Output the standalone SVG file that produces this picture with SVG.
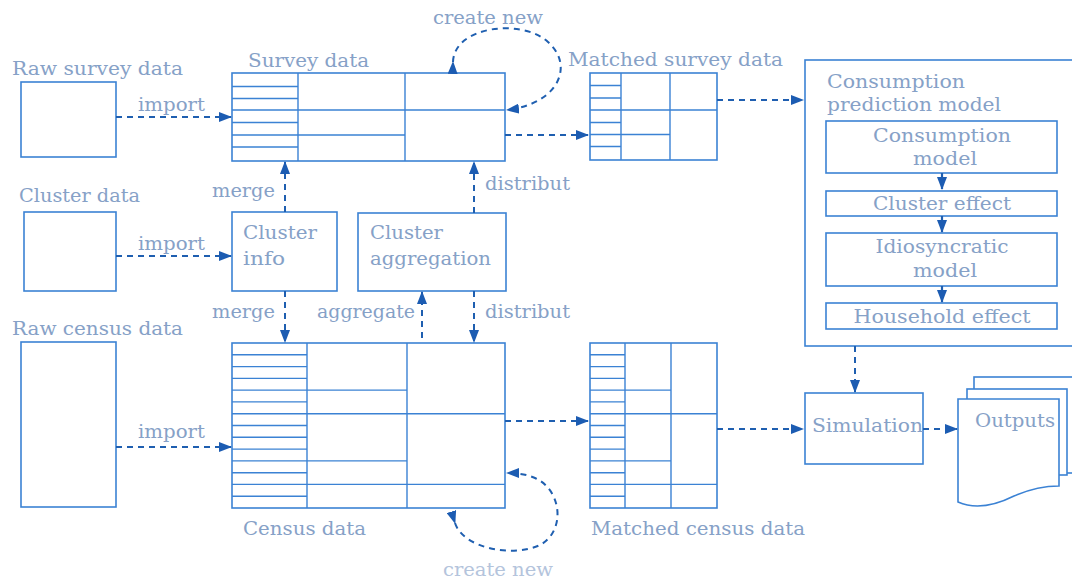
<svg xmlns="http://www.w3.org/2000/svg" width="1072" height="578" viewBox="0 0 1072 578">
  <defs>
    <marker id="ah" viewBox="0 0 13 10" refX="12" refY="5" markerWidth="13" markerHeight="10" markerUnits="userSpaceOnUse" orient="auto">
      <path d="M0,0 L13,5 L0,10 z" fill="#1c5cb2"/>
    </marker>
  </defs>
  <style>
    .box{fill:#fff;stroke:#3b82d4;stroke-width:1.6}
    .grid{fill:none;stroke:#3b82d4;stroke-width:1.4}
    .lbl{font-family:"DejaVu Serif","Liberation Serif",serif;font-size:19px;fill:#86a1c7}
    .faint{fill:#b4c4dc}
    .dash{fill:none;stroke:#1f5fb0;stroke-width:2;stroke-dasharray:6 5;marker-end:url(#ah)}
    .loop{fill:none;stroke:#1f5fb0;stroke-width:2;stroke-dasharray:6 5;marker-start:url(#ah);marker-end:url(#ah)}
    .solid{fill:none;stroke:#1f5fb0;stroke-width:2.2;marker-end:url(#ah)}
  </style>
  <rect width="1072" height="578" fill="#fff"/>

  <!-- raw survey data -->
  <g id="raw-survey">
    <rect class="box" x="21" y="82" width="95" height="75"/>
    <text class="lbl" x="12" y="75" textLength="171" lengthAdjust="spacingAndGlyphs">Raw survey data</text>
  </g>

  <!-- survey data table -->
  <g id="survey-data">
    <rect class="box" x="232" y="73" width="273" height="88"/>
    <path class="grid" d="M298,73V161M405,73V161M232,86.5H298M232,98.5H298M232,110H505M232,122.5H298M232,135H405M232,147H298"/>
    <text class="lbl" x="248" y="67" textLength="121" lengthAdjust="spacingAndGlyphs">Survey data</text>
  </g>

  <!-- matched survey data table -->
  <g id="matched-survey">
    <rect class="box" x="590" y="73" width="127" height="87"/>
    <path class="grid" d="M621,73V160M670,73V160M590,85.5H621M590,98H621M590,110H717M590,122.5H621M590,134.5H670M590,146.5H621"/>
    <text class="lbl" x="568" y="66" textLength="215" lengthAdjust="spacingAndGlyphs">Matched survey data</text>
  </g>

  <!-- cluster data -->
  <g id="cluster-data">
    <rect class="box" x="24" y="212" width="92" height="79"/>
    <text class="lbl" x="19" y="202" textLength="121" lengthAdjust="spacingAndGlyphs">Cluster data</text>
  </g>

  <g id="cluster-info">
    <rect class="box" x="232" y="212" width="105" height="79"/>
    <text class="lbl" x="243" y="239" textLength="74" lengthAdjust="spacingAndGlyphs">Cluster</text>
    <text class="lbl" x="243" y="265" textLength="42" lengthAdjust="spacingAndGlyphs">info</text>
  </g>

  <g id="cluster-aggregation">
    <rect class="box" x="358" y="213" width="148" height="78"/>
    <text class="lbl" x="370" y="239" textLength="73" lengthAdjust="spacingAndGlyphs">Cluster</text>
    <text class="lbl" x="370" y="265" textLength="121" lengthAdjust="spacingAndGlyphs">aggregation</text>
  </g>

  <!-- raw census data -->
  <g id="raw-census">
    <rect class="box" x="21" y="342" width="95" height="165"/>
    <text class="lbl" x="12" y="335" textLength="171" lengthAdjust="spacingAndGlyphs">Raw census data</text>
  </g>

  <!-- census data table -->
  <g id="census-data">
    <rect class="box" x="232" y="343" width="273" height="165"/>
    <path class="grid" d="M307,343V508M407,343V508
      M232,354.8H307M232,366.6H307M232,378.4H307M232,390.1H407M232,401.9H307M232,413.7H505M232,425.5H307
      M232,437.3H307M232,449.1H307M232,460.9H407M232,472.7H307M232,484.4H505M232,496.2H307"/>
    <text class="lbl" x="243" y="535" textLength="123" lengthAdjust="spacingAndGlyphs">Census data</text>
  </g>

  <!-- matched census data table -->
  <g id="matched-census">
    <rect class="box" x="590" y="343" width="127" height="165"/>
    <path class="grid" d="M625,343V508M671,343V508
      M590,354.8H625M590,366.6H625M590,378.4H625M590,390.1H671M590,401.9H625M590,413.7H717M590,425.5H625
      M590,437.3H625M590,449.1H625M590,460.9H671M590,472.7H625M590,484.4H717M590,496.2H625"/>
    <text class="lbl" x="591" y="535" textLength="214" lengthAdjust="spacingAndGlyphs">Matched census data</text>
  </g>

  <!-- consumption prediction model -->
  <g id="prediction-model">
    <rect class="box" x="805" y="60" width="280" height="286"/>
    <text class="lbl" x="827" y="88" textLength="138" lengthAdjust="spacingAndGlyphs">Consumption</text>
    <text class="lbl" x="827" y="111" textLength="174" lengthAdjust="spacingAndGlyphs">prediction model</text>
    <g id="consumption-model">
      <rect class="box" x="826" y="121" width="231" height="52"/>
      <text class="lbl" x="942" y="142" text-anchor="middle" textLength="138" lengthAdjust="spacingAndGlyphs">Consumption</text>
      <text class="lbl" x="945" y="165" text-anchor="middle" textLength="64" lengthAdjust="spacingAndGlyphs">model</text>
    </g>
    <g id="cluster-effect">
      <rect class="box" x="826" y="191" width="231" height="25"/>
      <text class="lbl" x="942" y="210" text-anchor="middle" textLength="138" lengthAdjust="spacingAndGlyphs">Cluster effect</text>
    </g>
    <g id="idiosyncratic-model">
      <rect class="box" x="826" y="233" width="231" height="53"/>
      <text class="lbl" x="942" y="253" text-anchor="middle" textLength="133" lengthAdjust="spacingAndGlyphs">Idiosyncratic</text>
      <text class="lbl" x="945" y="277" text-anchor="middle" textLength="64" lengthAdjust="spacingAndGlyphs">model</text>
    </g>
    <g id="household-effect">
      <rect class="box" x="826" y="303" width="231" height="26"/>
      <text class="lbl" x="942" y="323" text-anchor="middle" textLength="177" lengthAdjust="spacingAndGlyphs">Household effect</text>
    </g>
  </g>

  <!-- simulation -->
  <g id="simulation">
    <rect class="box" x="805" y="393" width="118" height="71"/>
    <text class="lbl" x="812" y="432" textLength="111" lengthAdjust="spacingAndGlyphs">Simulation</text>
  </g>

  <!-- outputs: stacked documents -->
  <g id="outputs">
    <rect class="box" x="974" y="377" width="110" height="96"/>
    <rect class="box" x="967" y="389" width="100" height="86"/>
    <path class="box" d="M958,399H1059V486C1042,486 1030,489 1014,496C996,505 976,510 958,502Z"/>
    <text class="lbl" x="975" y="427" textLength="80" lengthAdjust="spacingAndGlyphs">Outputs</text>
  </g>

  <!-- connectors -->
  <g id="connectors">
    <path class="dash" d="M116,117H231"/>
    <path class="dash" d="M116,256H231"/>
    <path class="dash" d="M116,447H231"/>
    <path class="dash" d="M505,135H588"/>
    <path class="dash" d="M717,100H803"/>
    <path class="dash" d="M505,421H588"/>
    <path class="dash" d="M717,429H803"/>
    <path class="dash" d="M923,429H957"/>
    <path class="dash" d="M855,346V392"/>
    <path class="dash" d="M285,212V162"/>
    <path class="dash" d="M285,291V342"/>
    <path class="dash" d="M474,213V162"/>
    <path class="dash" d="M474,291V342"/>
    <path class="dash" d="M422,338V292"/>
    <path class="loop" d="M453,62C454,26 522,18 548,42C575,66 558,104 507,110"/>
    <path class="loop" d="M455,523C463,548 512,558 540,545C566,531 562,490 535,478C526,474 516,473 507,473"/>

    <path class="solid" d="M942,173V189"/>
    <path class="solid" d="M942,216V232"/>
    <path class="solid" d="M942,286V302"/>

    <text class="lbl" x="138" y="111" textLength="67" lengthAdjust="spacingAndGlyphs">import</text>
    <text class="lbl" x="138" y="250" textLength="67" lengthAdjust="spacingAndGlyphs">import</text>
    <text class="lbl" x="138" y="438" textLength="67" lengthAdjust="spacingAndGlyphs">import</text>
    <text class="lbl" x="212" y="197" textLength="63" lengthAdjust="spacingAndGlyphs">merge</text>
    <text class="lbl" x="212" y="318" textLength="63" lengthAdjust="spacingAndGlyphs">merge</text>
    <text class="lbl" x="485" y="190" textLength="85" lengthAdjust="spacingAndGlyphs">distribut</text>
    <text class="lbl" x="485" y="318" textLength="85" lengthAdjust="spacingAndGlyphs">distribut</text>
    <text class="lbl" x="317" y="318" textLength="98" lengthAdjust="spacingAndGlyphs">aggregate</text>
    <text class="lbl" x="433" y="24" textLength="110" lengthAdjust="spacingAndGlyphs">create new</text>
    <text class="lbl faint" x="443" y="576" textLength="110" lengthAdjust="spacingAndGlyphs">create new</text>
  </g>
</svg>
